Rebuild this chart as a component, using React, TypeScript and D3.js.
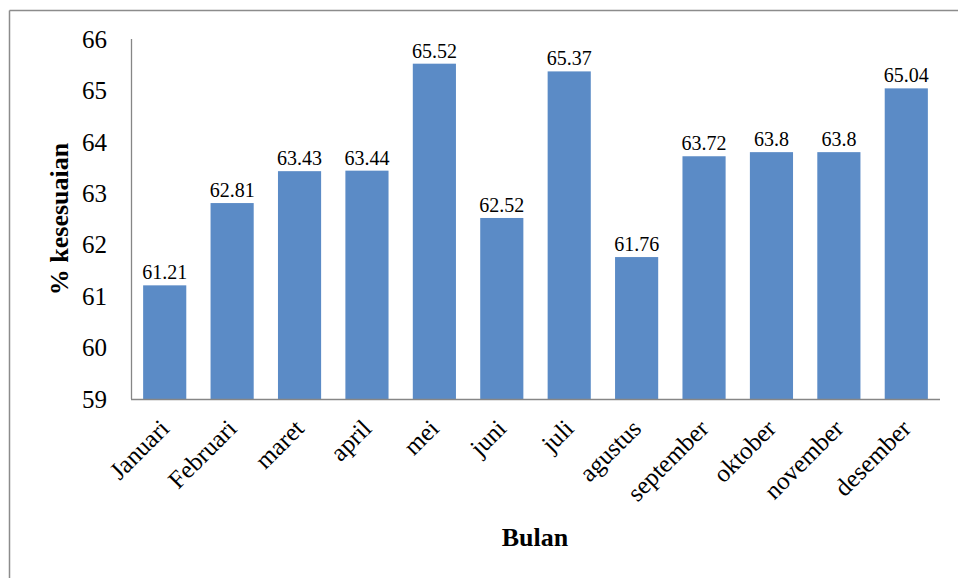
import React from "react";
import * as d3 from "d3";

const months = ["Januari", "Februari", "maret", "april", "mei", "juni", "juli", "agustus", "september", "oktober", "november", "desember"];
const values = [61.21, 62.81, 63.43, 63.44, 65.52, 62.52, 65.37, 61.76, 63.72, 63.8, 63.8, 65.04];
const yTicks = [59, 60, 61, 62, 63, 64, 65, 66];

const W = 958;
const H = 578;
const left = 131;
const right = 940;
const top = 39;
const bottom = 399;
const FONT = "'Liberation Serif', 'Times New Roman', serif";
const BAR = "#5b8bc6";

export default function App() {
  const x = d3.scaleBand<string>().domain(months).range([left, right]).paddingInner(0.36).paddingOuter(0.18);
  const y = d3.scaleLinear().domain([59, 66]).range([bottom, top]);

  return (
    <svg width={W} height={H} style={{ position: "absolute", left: 0, top: 0 }}>
      <rect x={0} y={0} width={W} height={H} fill="#ffffff" />
      {/* outer frame */}
      <line x1={9.5} y1={10.5} x2={W} y2={10.5} stroke="#8c8c8c" strokeWidth={1.5} />
      <line x1={9.5} y1={10.5} x2={9.5} y2={H} stroke="#8c8c8c" strokeWidth={1.5} />

      {/* bars */}
      {months.map((m, i) => (
        <rect key={m} x={x(m)} y={y(values[i])} width={x.bandwidth()} height={bottom - y(values[i])} fill={BAR} />
      ))}

      {/* axes */}
      <line x1={left + 0.5} y1={top} x2={left + 0.5} y2={bottom} stroke="#868686" strokeWidth={1.3} />
      <line x1={left} y1={bottom + 0.5} x2={right} y2={bottom + 0.5} stroke="#868686" strokeWidth={1.3} />

      {/* y tick labels */}
      {yTicks.map((t) => (
        <text key={t} x={107} y={y(t)} dy="0.35em" textAnchor="end" fontFamily={FONT} fontSize={25} fill="#000">
          {t}
        </text>
      ))}

      {/* value labels */}
      {months.map((m, i) => (
        <text
          key={m}
          x={(x(m) as number) + x.bandwidth() / 2}
          y={y(values[i]) - 6}
          textAnchor="middle"
          fontFamily={FONT}
          fontSize={20}
          fill="#000"
        >
          {values[i]}
        </text>
      ))}

      {/* month labels */}
      {months.map((m) => {
        const cx = (x(m) as number) + x.bandwidth() / 2;
        return (
          <text
            key={m}
            transform={`translate(${cx + 6},${bottom + 31}) rotate(-45)`}
            textAnchor="end"
            fontFamily={FONT}
            fontSize={25}
            fill="#000"
          >
            {m}
          </text>
        );
      })}

      {/* axis titles */}
      <text x={535} y={546} textAnchor="middle" fontFamily={FONT} fontSize={26} fontWeight="bold" fill="#000">
        Bulan
      </text>
      <text
        transform={`translate(68,${(top + bottom) / 2}) rotate(-90)`}
        textAnchor="middle"
        fontFamily={FONT}
        fontSize={26}
        fontWeight="bold"
        fill="#000"
      >
        % kesesuaian
      </text>
    </svg>
  );
}
